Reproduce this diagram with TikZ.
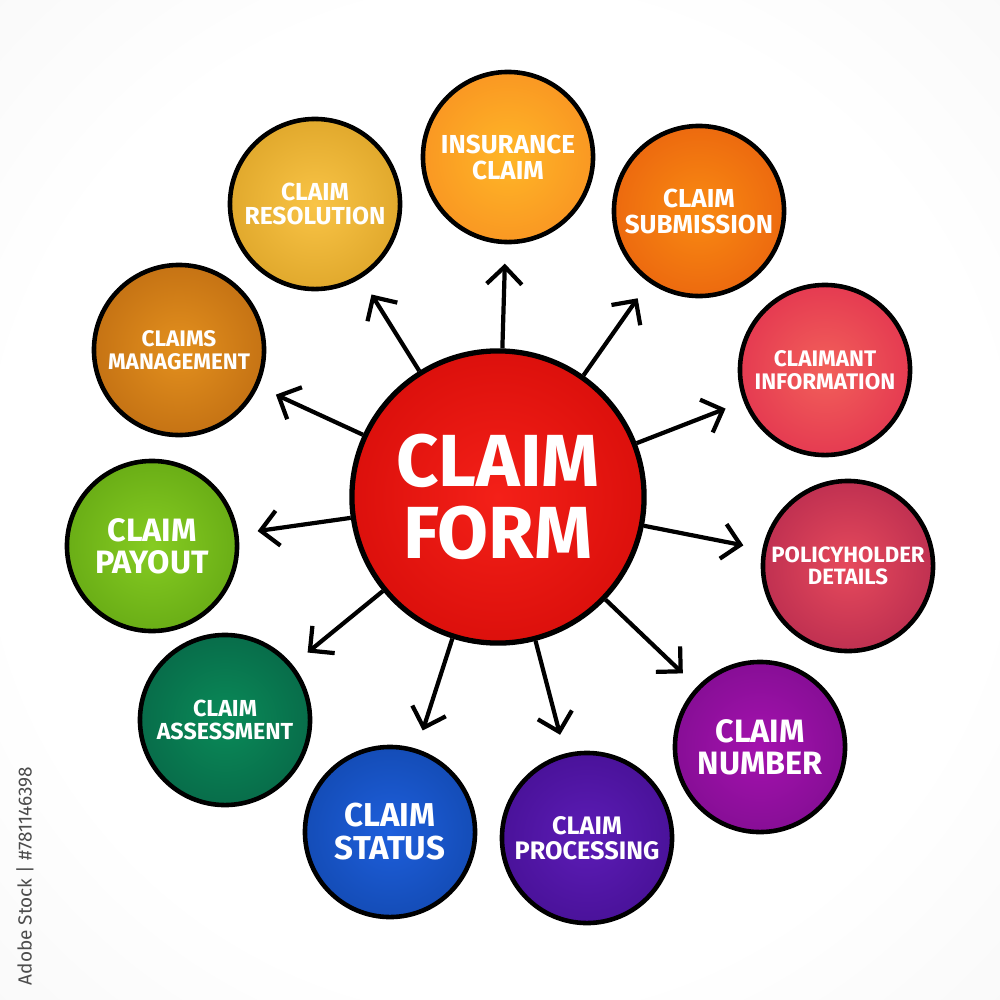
\documentclass[tikz,border=0pt]{standalone}
\usepackage{fontspec}
\setmainfont{Fira Sans}
\usetikzlibrary{arrows.meta}
\colorlet{ballin}{white}
\colorlet{ballout}{black}
\pgfdeclareradialshading[ballin,ballout]{softball}{\pgfpoint{0bp}{0bp}}{color(0bp)=(ballin); color(50bp)=(ballout)}
\pgfdeclareradialshading{bgshade}{\pgfpoint{0bp}{0bp}}{color(0bp)=(white); color(25bp)=(white); color(72bp)=(black!10)}
\newcommand\bub[6]{\definecolor{ballin}{HTML}{#4}\definecolor{ballout}{HTML}{#5}\node[bubble, font=\bfseries\fontsize{#3}{#3}\selectfont] (#1) at (#2) {#6};}
\begin{document}
\begin{tikzpicture}[x=0.01cm,y=-0.01cm,
  bubble/.style={circle, draw=black, line width=1.3pt, minimum size=1.70cm, inner sep=0pt, shading=softball, text=white, align=center},
  link/.style={line width=1.2pt, -{Straight Barb[length=5pt,width=10pt]}, shorten >=5.5pt}]
\useasboundingbox (0,0) rectangle (1000,1000);
\shade[shading=bgshade] (0,0) rectangle (1000,1000);
% centre
\definecolor{ballin}{HTML}{F42018}\definecolor{ballout}{HTML}{C40000}
\node[bubble, minimum size=2.92cm, line width=1.5pt, font=\bfseries\fontsize{21}{20.5}\selectfont] (c) at (498,497) {CLAIM\\FORM};
% outer bubbles
\bub{ic}{508,157}{7.4}{FFB627}{F47A1E}{INSURANCE\\CLAIM}
\bub{sub}{699,211}{7.4}{F98A12}{E04A0C}{CLAIM\\SUBMISSION}
\bub{ci}{825,370}{6.4}{F2605A}{D81648}{CLAIMANT\\INFORMATION}
\bub{ph}{848,566}{6.3}{E64A5C}{9A1746}{POLICYHOLDER\\DETAILS}
\bub{num}{760,747}{9.2}{A412AE}{6A0A7E}{CLAIM\\NUMBER}
\bub{proc}{587,838}{7.2}{5C1CB6}{38087E}{CLAIM\\PROCESSING}
\bub{stat}{390,832}{9.4}{1E5FDC}{0A3A92}{CLAIM\\STATUS}
\bub{ass}{225,720}{6.6}{0A8A58}{05503C}{CLAIM\\ASSESSMENT}
\bub{pay}{152,546}{9.2}{86CC22}{4E900A}{CLAIM\\PAYOUT}
\bub{man}{179,350}{6.4}{E3901E}{A8560A}{CLAIMS\\MANAGEMENT}
\bub{res}{315,204}{7}{F9C446}{C98E14}{CLAIM\\RESOLUTION}
% arrows
\foreach \n in {ic,sub,ci,ph,num,proc,stat,ass,pay,man,res}
  \draw[link] (c) -- (\n);
% side text
\node[rotate=90, text=black!70, font=\fontsize{5.4}{6}\selectfont] (wm) at (25,876) {Adobe Stock | \#781146398};
\end{tikzpicture}
\end{document}
